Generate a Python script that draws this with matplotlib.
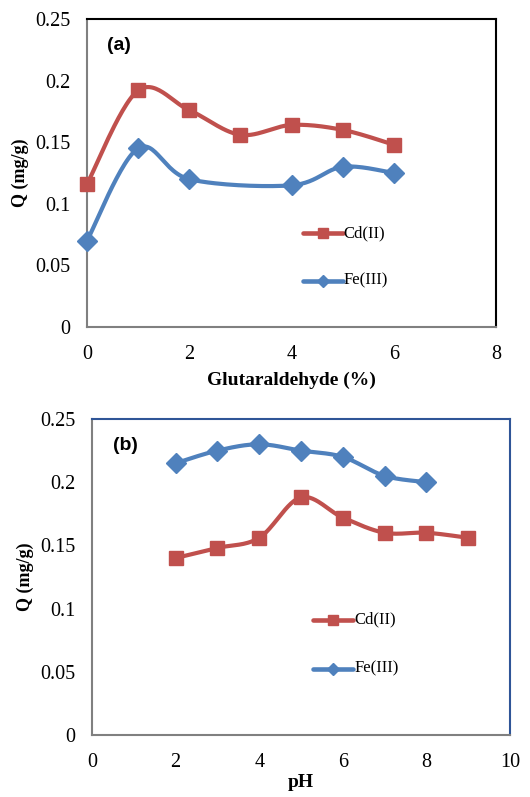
import numpy as np
import matplotlib
matplotlib.use("Agg")
import matplotlib.pyplot as plt

# panel (a): glutaraldehyde
glu_cd_x = [0, 1, 2, 3, 4, 5, 6]
glu_cd_q = [0.116, 0.192, 0.176, 0.156, 0.164, 0.160, 0.148]
glu_fe_x = [0, 1, 2, 4, 5, 6]
glu_fe_q = [0.070, 0.145, 0.120, 0.115, 0.130, 0.125]

# panel (b): pH
ph_cd_x = [2, 3, 4, 5, 6, 7, 8, 9]
ph_cd_q = [0.140, 0.148, 0.156, 0.188, 0.172, 0.160, 0.160, 0.156]
ph_fe_x = [2, 3, 4, 5, 6, 7, 8]
ph_fe_q = [0.215, 0.225, 0.230, 0.225, 0.220, 0.205, 0.200]

RED = '#C0504D'
BLUE = '#4F81BD'
SERIF = 'Liberation Serif'


def smooth(x, y, n=30):
    # Excel-like smoothed line (cardinal spline through the points)
    x = np.asarray(x, float); y = np.asarray(y, float)
    px = np.concatenate([[x[0]], x, [x[-1]]])
    py = np.concatenate([[y[0]], y, [y[-1]]])
    t = np.linspace(0, 1, n)
    sx, sy = [], []
    for i in range(1, len(px) - 2):
        p0, p1, p2, p3 = [np.array([px[j], py[j]]) for j in (i - 1, i, i + 1, i + 2)]
        c1 = p1 + (p2 - p0) / 6
        c2 = p2 - (p3 - p1) / 6
        b = ((1 - t) ** 3)[:, None] * p1 + (3 * (1 - t) ** 2 * t)[:, None] * c1 \
            + (3 * (1 - t) * t ** 2)[:, None] * c2 + (t ** 3)[:, None] * p2
        sx.extend(b[:, 0]); sy.extend(b[:, 1])
    return sx, sy


def panel(ax, cdx, cdq, fex, feq, xmax, letter, xlabel, border, leg_y, ylab_x, xlab_y):
    for xs, ys, c, m, ms in [(cdx, cdq, RED, 's', 10), (fex, feq, BLUE, 'D', 10)]:
        sx, sy = smooth(xs, ys)
        ax.plot(sx, sy, color=c, lw=3, solid_capstyle='round', zorder=2, clip_on=False)
        ax.plot(xs, ys, ls='none', marker=m, ms=ms, color=c, mec=c, zorder=3,
                clip_on=False)
    ax.set_xlim(0, xmax)
    ax.set_ylim(0, 0.25)
    ax.set_xticks(range(0, xmax + 1, 2))
    ax.set_yticks([0, 0.05, 0.1, 0.15, 0.2, 0.25])
    ax.set_yticklabels(['0', '0.05', '0.1', '0.15', '0.2', '0.25'])
    ax.tick_params(axis='y', length=0, labelsize=14.5, pad=12)
    ax.tick_params(axis='x', length=0, labelsize=14.5, pad=13)
    for lab in ax.get_xticklabels() + ax.get_yticklabels():
        lab.set_fontfamily(SERIF)
    ax.spines['left'].set_color('#808080')
    ax.spines['bottom'].set_color('#808080')
    ax.spines['top'].set_color(border)
    ax.spines['right'].set_color(border)
    for s in ax.spines.values():
        s.set_linewidth(1.5)
    ax.set_ylabel('Q (mg/g)', family=SERIF, fontweight='bold', fontsize=13)
    ax.yaxis.set_label_coords(ylab_x, 0.5)
    ax.set_xlabel(xlabel, family=SERIF, fontweight='bold', fontsize=14)
    ax.xaxis.set_label_coords(0.5, xlab_y)
    ax.xaxis.label.set_va('center')
    ax.yaxis.label.set_va('center')
    ax.text(0.05, 0.915, letter, transform=ax.transAxes, fontsize=14,
            fontweight='bold', family='Liberation Sans', va='center')
    # legend
    for yy, c, m, name in [(leg_y, RED, 's', 'Cd(II)'), (leg_y - 0.155, BLUE, 'D', 'Fe(III)')]:
        ax.plot([0.528, 0.625], [yy, yy], transform=ax.transAxes, color=c, lw=3.3,
                solid_capstyle='round')
        ax.plot([0.5765], [yy], transform=ax.transAxes, marker=m, ms=7 if m == 's' else 6,
                color=c, ls='none')
        ax.text(0.628, yy, name, transform=ax.transAxes, family=SERIF, fontsize=12,
                va='center')


fig = plt.figure(figsize=(5.30, 7.97), dpi=100)
W, H = 530, 797
ax1 = fig.add_axes([87 / W, 1 - 327 / H, (496 - 87) / W, (327 - 19) / H])
ax2 = fig.add_axes([92 / W, 1 - 735 / H, (510 - 92) / W, (735 - 419) / H])

panel(ax1, glu_cd_x, glu_cd_q, glu_fe_x, glu_fe_q, 8, '(a)',
      'Glutaraldehyde (%)', 'black', 0.305, -0.162, -0.172)
panel(ax2, ph_cd_x, ph_cd_q, ph_fe_x, ph_fe_q, 10, '(b)', 'pH', '#2F5597', 0.365,
      -0.160, -0.150)

fig.savefig('out.png', dpi=100)
